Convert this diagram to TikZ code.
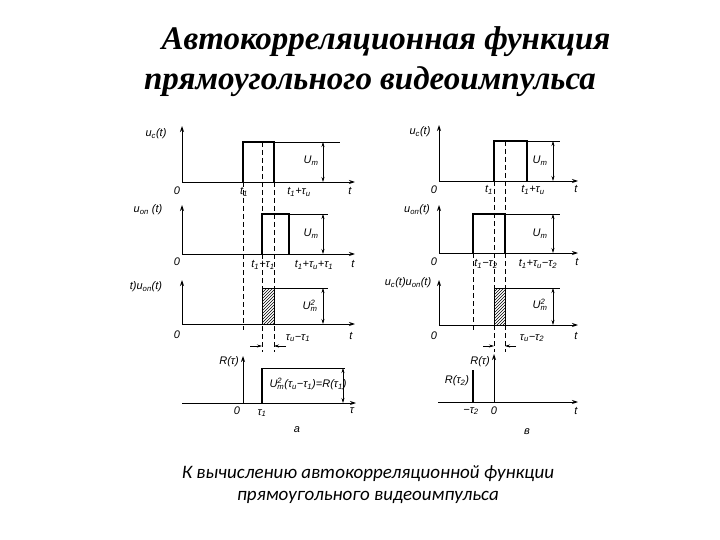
\documentclass[tikz,border=0pt]{standalone}
\usepackage{fontspec}
\setmainfont{Liberation Serif}
\newfontfamily\ttlfont{Liberation Serif}
\newfontfamily\capfont{Carlito}
\newfontfamily\labfont{Liberation Sans}
\usetikzlibrary{patterns,arrows.meta}
\newcommand{\ls}[1]{\textsubscript{#1}}
\newcommand{\lsp}[2]{\rlap{\textsuperscript{#1}}\textsubscript{#2}}
\tikzset{
 ax/.style={line width=0.9pt,-{Stealth[length=6pt,width=4pt]}},
 ln/.style={line width=0.8pt},
 pl/.style={line width=1.6pt},
 dsh/.style={line width=0.6pt,dash pattern=on 5pt off 3pt},
 dim/.style={line width=0.6pt,{Stealth[length=5pt,width=3pt]}-{Stealth[length=5pt,width=3pt]}},
 lab/.style={font=\labfont\itshape\fontsize{11}{12}\selectfont,inner sep=1pt},
 ttl/.style={font=\ttlfont\bfseries\itshape\fontsize{33}{36}\selectfont},
}
\begin{document}
\begin{tikzpicture}[x=1pt,y=-1pt]
\useasboundingbox (0,0) rectangle (720,540);
\node[ttl] (t1) at (386,42) {Автокорреляционная функция};
\node[ttl] (t2) at (370,82) {прямоугольного видеоимпульса};
\node[font=\capfont\itshape\fontsize{19}{22}\selectfont] (c1) at (368,474) {К вычислению автокорреляционной функции};
\node[font=\capfont\itshape\fontsize{19}{22}\selectfont] (c2) at (368,497) {прямоугольного видеоимпульса};

%%%%% LEFT
\coordinate (a1o) at (182,182); \coordinate (a1y) at (182,126); \coordinate (a1x) at (355,182);
\draw[ax] (a1o) -- (a1y); \draw[ax] (a1o) -- (a1x);
\draw[pl] (243,182) -- (243,142) -- (274,142) -- (274,182);
\draw[ln] (274,142) -- (340,142);
\draw[dim] (323,142) -- (323,182);
\node[lab] (l1) at (156,134) {u\ls{с}(t)};
\node[lab] (l2) at (177,191) {0};
\node[lab] (l3) at (244,192) {t\ls{1}};
\node[lab] (l4) at (299,192) {t\ls{1}+τ\ls{и}};
\node[lab] (l5) at (350,191) {t};
\node[lab] (l6) at (311,161) {U\ls{m}};
\coordinate (a2o) at (182,254); \coordinate (a2y) at (182,205); \coordinate (a2x) at (355,254);
\draw[ax] (a2o) -- (a2y); \draw[ax] (a2o) -- (a2x);
\draw[pl] (262,254) -- (262,214) -- (289,214) -- (289,254);
\draw[ln] (289,214) -- (328,214);
\draw[dim] (323,214) -- (323,254);
\node[lab] (m1) at (148,210) {u\ls{оп} (t)};
\node[lab] (m2) at (177,262) {0};
\node[lab] (m3) at (263,265) {t\ls{1}+τ\ls{1}};
\node[lab] (m4) at (314,265) {t\ls{1}+τ\ls{и}+τ\ls{1}};
\node[lab] (m5) at (353,264) {t};
\node[lab] (m6) at (311,234) {U\ls{m}};
\coordinate (a3o) at (182,324); \coordinate (a3y) at (182,280); \coordinate (a3x) at (355,324);
\draw[ax] (a3o) -- (a3y); \draw[ax] (a3o) -- (a3x);
\draw[ln,pattern=north east lines] (262,324) rectangle (274,288);
\draw[ln] (274,288) -- (328,288);
\draw[dim] (323,288) -- (323,324);
\node[lab] (n1) at (146,287) {t)u\ls{оп}(t)};
\node[lab] (n2) at (177,335) {0};
\node[lab] (n3) at (298,338) {τ\ls{и}−τ\ls{1}};
\node[lab] (n4) at (351,336) {t};
\node[lab] (n5) at (310,306) {U\lsp{2}{m}};
\draw[line width=0.6pt,-{Stealth[length=5pt,width=3pt]}] (250,346) -- (262,346);
\draw[line width=0.6pt,-{Stealth[length=5pt,width=3pt]}] (286,346) -- (274,346);
\draw[dsh] (243,182) -- (243,330);
\draw[dsh] (262,142) -- (262,352);
\draw[dsh] (274,182) -- (274,352);
\coordinate (a4o) at (182,403); \coordinate (a4x) at (356,403);
\coordinate (r4o) at (243,403); \coordinate (r4y) at (243,356);
\draw[ax] (a4o) -- (a4x); \draw[ax] (r4o) -- (r4y);
\draw[pl] (262,403) -- (262,368);
\draw[ln] (262,368) -- (345,368);
\draw[dim] (343,368) -- (343,403);
\node[lab] (p1) at (229,362) {R(τ)};
\node[lab] (p2) at (308,384) {U\lsp{2}{m}(τ\ls{и}−τ\ls{1})=R(τ\ls{1})};
\node[lab] (p3) at (237,411) {0};
\node[lab] (p4) at (262,413) {τ\ls{1}};
\node[lab] (p5) at (352,411) {τ};
\node[lab] (p6) at (297,430) {а};

%%%%% RIGHT
\coordinate (b1o) at (439,181); \coordinate (b1y) at (439,125); \coordinate (b1x) at (578,181);
\draw[ax] (b1o) -- (b1y); \draw[ax] (b1o) -- (b1x);
\draw[pl] (494,181) -- (494,141) -- (527,141) -- (527,181);
\draw[ln] (527,141) -- (560,141);
\draw[dim] (553,141) -- (553,181);
\node[lab] (q1) at (420,132) {u\ls{с}(t)};
\node[lab] (q2) at (434,190) {0};
\node[lab] (q3) at (489,190) {t\ls{1}};
\node[lab] (q4) at (533,190) {t\ls{1}+τ\ls{и}};
\node[lab] (q5) at (576,189) {t};
\node[lab] (q6) at (540,161) {U\ls{m}};
\coordinate (b2o) at (439,253); \coordinate (b2y) at (439,205); \coordinate (b2x) at (578,253);
\draw[ax] (b2o) -- (b2y); \draw[ax] (b2o) -- (b2x);
\draw[pl] (473,253) -- (473,214) -- (505,214) -- (505,253);
\draw[ln] (505,214) -- (560,214);
\draw[dim] (553,214) -- (553,253);
\node[lab] (s1) at (417,210) {u\ls{оп}(t)};
\node[lab] (s2) at (434,262) {0};
\node[lab] (s3) at (486,264) {t\ls{1}−τ\ls{2}};
\node[lab] (s4) at (538,264) {t\ls{1}+τ\ls{и}−τ\ls{2}};
\node[lab] (s5) at (577,262) {t};
\node[lab] (s6) at (540,234) {U\ls{m}};
\coordinate (b3o) at (439,325); \coordinate (b3y) at (439,280); \coordinate (b3x) at (578,325);
\draw[ax] (b3o) -- (b3y); \draw[ax] (b3o) -- (b3x);
\draw[ln,pattern=north east lines] (494,325) rectangle (505,288);
\draw[ln] (505,288) -- (560,288);
\draw[dim] (553,288) -- (553,325);
\node[lab] (w1) at (408,283) {u\ls{с}(t)u\ls{оп}(t)};
\node[lab] (w2) at (434,336) {0};
\node[lab] (w3) at (532,338) {τ\ls{и}−τ\ls{2}};
\node[lab] (w4) at (576,336) {t};
\node[lab] (w5) at (540,305) {U\lsp{2}{m}};
\draw[line width=0.6pt,-{Stealth[length=5pt,width=3pt]}] (483,346) -- (494,346);
\draw[line width=0.6pt,-{Stealth[length=5pt,width=3pt]}] (516,346) -- (505,346);
\draw[dsh] (473,253) -- (473,330);
\draw[dsh] (494,181) -- (494,352);
\draw[dsh] (505,141) -- (505,352);
\coordinate (b4o) at (438,402); \coordinate (b4x) at (578,402);
\coordinate (r5o) at (494,402); \coordinate (r5y) at (494,354);
\draw[ax] (b4o) -- (b4x); \draw[ax] (r5o) -- (r5y);
\draw[pl] (473,402) -- (473,370);
\node[lab] (x1) at (480,362) {R(τ)};
\node[lab] (x2) at (457,381) {R(τ\ls{2})};
\node[lab] (x3) at (471,411) {−τ\ls{2}};
\node[lab] (x4) at (494,411) {0};
\node[lab] (x5) at (576,411) {t};
\node[lab] (x6) at (527,432) {в};
\end{tikzpicture}
\end{document}
